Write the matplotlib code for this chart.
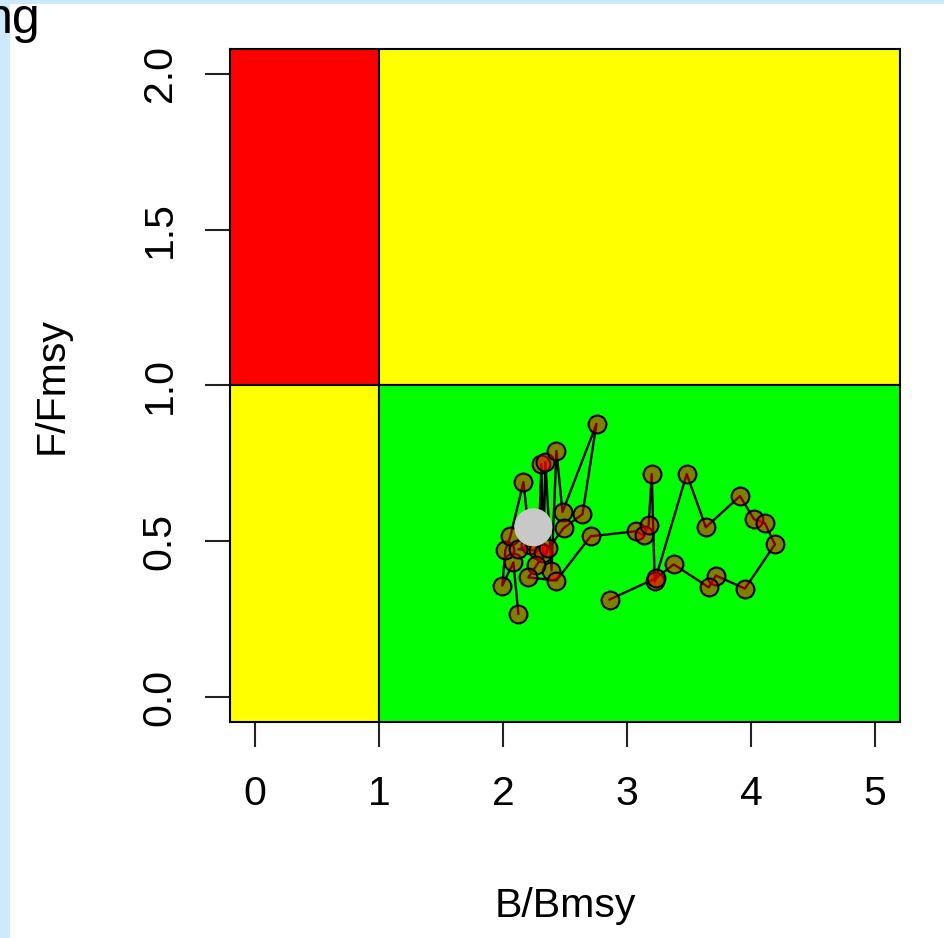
import matplotlib
matplotlib.use("Agg")
import matplotlib.pyplot as plt
from matplotlib.patches import Rectangle

plt.rcParams['font.family'] = ['Liberation Sans', 'DejaVu Sans']

# trajectory (B/Bmsy, F/Fmsy)
b_bmsy = [2.124, 2.084, 1.995, 2.019, 2.060, 2.165, 2.221, 2.124, 2.286, 2.310,
          2.326, 2.342, 2.391, 2.431, 2.480, 2.754, 2.641, 2.488, 2.367, 2.270,
          2.205, 2.431, 2.706, 3.069, 3.134, 3.174, 3.199, 3.223, 3.481, 3.635,
          3.910, 4.023, 4.111, 4.192, 3.950, 3.716, 3.659, 3.376, 3.231, 2.859]
f_fmsy = [0.268, 0.432, 0.358, 0.471, 0.516, 0.690, 0.487, 0.474, 0.471, 0.748,
          0.461, 0.755, 0.406, 0.790, 0.594, 0.877, 0.587, 0.542, 0.477, 0.423,
          0.384, 0.374, 0.516, 0.532, 0.519, 0.552, 0.716, 0.371, 0.716, 0.545,
          0.645, 0.571, 0.558, 0.490, 0.348, 0.390, 0.352, 0.426, 0.381, 0.313]

current_b = 2.245
current_f = 0.545

x_ticks = [0, 1, 2, 3, 4, 5]
y_ticks = [0.0, 0.5, 1.0, 1.5, 2.0]
y_tick_labels = ["0.0", "0.5", "1.0", "1.5", "2.0"]

# kobe quadrants: (x0, x1, y0, y1, colour)
zones = [
    (-1, 1, 1, 3, "red"),
    (1, 6, 1, 3, "yellow"),
    (-1, 1, -1, 1, "yellow"),
    (1, 6, -1, 1, "#00ff00"),
]

fig = plt.figure(figsize=(9.45, 9.38), dpi=100)
fig.patch.set_facecolor("white")

# light blue page frame at left / top
fig.patches.append(Rectangle((0, 0), 10 / 945, 1, transform=fig.transFigure,
                             facecolor="#cde9fb", edgecolor="none", zorder=0))
fig.patches.append(Rectangle((0, 1 - 4 / 938), 1, 4 / 938, transform=fig.transFigure,
                             facecolor="#cde9fb", edgecolor="none", zorder=0))
fig.text(40 / 945, 1 - 33 / 938, "ng", ha="right", va="baseline", fontsize=36, color="black")

ax = fig.add_axes([230 / 945, 1 - 722 / 938, 670 / 945, 673 / 938])

for x0, x1, y0, y1, c in zones:
    ax.add_patch(Rectangle((x0, y0), x1 - x0, y1 - y0, facecolor=c,
                           edgecolor="black", linewidth=1.5, zorder=1))

ax.plot(b_bmsy, f_fmsy, color="black", linewidth=1.7, zorder=2)
ax.scatter(b_bmsy, f_fmsy, s=165, facecolor=(1, 0, 0, 0.5), edgecolor="black",
           linewidth=1.5, zorder=3)
ax.scatter([current_b], [current_f], s=750, color="#c8c8c8", edgecolor="none", zorder=4)

ax.set_xlim(-0.2, 5.2)
ax.set_ylim(-0.08, 2.08)
ax.set_xticks(x_ticks)
ax.set_xticklabels([str(v) for v in x_ticks])
ax.set_yticks(y_ticks)
ax.set_yticklabels(y_tick_labels, rotation=90, va="center")
ax.tick_params(axis="both", length=18, width=1.5, color="#222222", labelsize=29.5)
ax.tick_params(axis="x", pad=20)
ax.tick_params(axis="y", pad=19)
for sp in ax.spines.values():
    sp.set_linewidth(1.5)
    sp.set_zorder(5)

fig.text(565 / 945, 1 - 917 / 938, "B/Bmsy", ha="center", va="baseline", fontsize=29.5)
fig.text(52 / 945, 1 - 386 / 938, "F/Fmsy", ha="center", va="center", rotation=90, fontsize=29.5)

fig.savefig("out.png", dpi=100)
